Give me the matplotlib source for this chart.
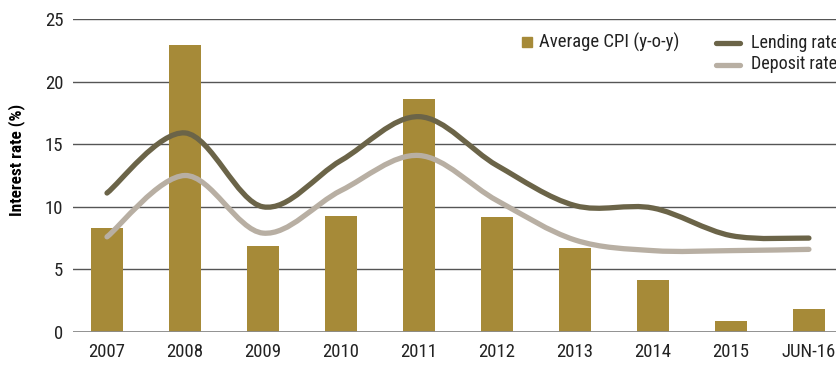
import matplotlib
matplotlib.use("Agg")
import matplotlib.pyplot as plt
from matplotlib.path import Path
from matplotlib.patches import PathPatch
from matplotlib.lines import Line2D

plt.rcParams['font.family'] = ['Roboto Condensed', 'DejaVu Sans']

# data
years = ["2007", "2008", "2009", "2010", "2011", "2012", "2013", "2014", "2015", "JUN-16"]
cpi = [8.3, 22.9, 6.9, 9.3, 18.6, 9.2, 6.7, 4.15, 0.9, 1.85]
lending = [11.1, 15.9, 10.0, 13.7, 17.2, 13.3, 10.1, 9.9, 7.7, 7.5]
deposit = [7.6, 12.5, 7.9, 11.3, 14.1, 10.5, 7.35, 6.5, 6.5, 6.6]

bar_col = "#A68A38"
lend_col = "#6B6448"
dep_col = "#B8AFA3"


def smooth_path(xs, ys):
    # catmull-rom through the points, drawn as cubic bezier segments
    verts = [(xs[0], ys[0])]
    codes = [Path.MOVETO]
    n = len(xs)
    for i in range(n - 1):
        x0, y0 = (xs[i - 1], ys[i - 1]) if i > 0 else (xs[i], ys[i])
        x1, y1 = xs[i], ys[i]
        x2, y2 = xs[i + 1], ys[i + 1]
        x3, y3 = (xs[i + 2], ys[i + 2]) if i + 2 < n else (x2, y2)
        c1 = (x1 + (x2 - x0) / 6, y1 + (y2 - y0) / 6)
        c2 = (x2 - (x3 - x1) / 6, y2 - (y3 - y1) / 6)
        verts += [c1, c2, (x2, y2)]
        codes += [Path.CURVE4] * 3
    return Path(verts, codes)


fig = plt.figure(figsize=(8.37, 3.67), dpi=100)
ax = fig.add_axes([73 / 837, 35 / 367, 1 - 73 / 837, 313 / 367])

x = list(range(len(years)))
ax.bar(x, cpi, width=0.42, color=bar_col, zorder=2)

for vals, col in [(lending, lend_col), (deposit, dep_col)]:
    p = PathPatch(smooth_path(x, vals), facecolor="none", edgecolor=col,
                  lw=3.8, capstyle="round", joinstyle="round", zorder=3)
    ax.add_patch(p)

ax.set_xlim(-0.436, 9.36)
ax.set_ylim(0, 25)
ax.set_yticks([0, 5, 10, 15, 20, 25])
ax.set_xticks(x)
ax.set_xticklabels(years)
ax.yaxis.grid(True, color="#555555", lw=1)
ax.set_axisbelow(True)
for s in ["top", "right", "left", "bottom"]:
    ax.spines[s].set_visible(False)
ax.axhline(0, color="#8c8c8c", lw=2, zorder=4)
ax.tick_params(length=0, labelsize=13.5, colors="#222222", pad=8)
ax.tick_params(axis="y", pad=7)
ax.set_ylabel("Interest rate (%)", fontsize=12.5, fontweight="bold")
ax.yaxis.set_label_coords(-0.063, 0.55)

# legend, placed by hand so it runs off the right edge like the original
fig.patches.append(plt.Rectangle((522 / 837, 1 - 47 / 367), 10 / 837, 10 / 367,
                                 transform=fig.transFigure, color=bar_col))
fig.text(539 / 837, 1 - 42 / 367, "Average CPI (y-o-y)", fontsize=13.5, va="center", color="#222222")
fig.lines.append(Line2D([716 / 837, 740 / 837], [1 - 43 / 367] * 2, transform=fig.transFigure,
                        color=lend_col, lw=3.8, solid_capstyle="round"))
fig.lines.append(Line2D([716 / 837, 740 / 837], [1 - 65 / 367] * 2, transform=fig.transFigure,
                        color=dep_col, lw=3.8, solid_capstyle="round"))
fig.text(751 / 837, 1 - 43 / 367, "Lending rate", fontsize=13, va="center", color="#222222")
fig.text(751 / 837, 1 - 64 / 367, "Deposit rate", fontsize=13, va="center", color="#222222")

fig.savefig("out.png", dpi=100)
